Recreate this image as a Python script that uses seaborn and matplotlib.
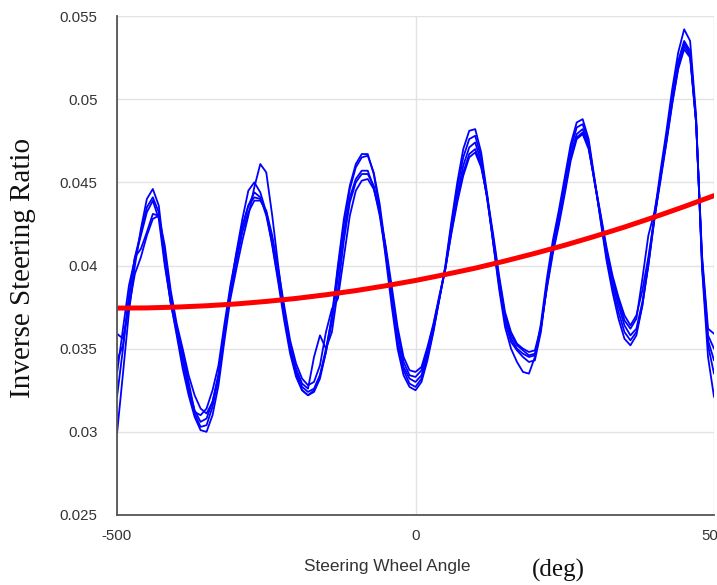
import matplotlib
matplotlib.use("Agg")
import matplotlib.pyplot as plt
import seaborn as sns
import pandas as pd

# ---------------- data ----------------
angle_deg = list(range(-500, 510, 10))

run_1 = [0.0299, 0.0335, 0.0372, 0.0400, 0.0422, 0.0440, 0.0446, 0.0436, 0.0405, 0.0378,
         0.0358, 0.0338, 0.0322, 0.0309, 0.0301, 0.0300, 0.0310, 0.0328, 0.0355, 0.0380,
         0.0398, 0.0415, 0.0430, 0.0447, 0.0461, 0.0456, 0.0430, 0.0400, 0.0372, 0.0350,
         0.0334, 0.0325, 0.0322, 0.0324, 0.0332, 0.0348, 0.0370, 0.0400, 0.0428, 0.0448,
         0.0461, 0.0467, 0.0467, 0.0455, 0.0434, 0.0405, 0.0376, 0.0350, 0.0334, 0.0327,
         0.0325, 0.0330, 0.0343, 0.0360, 0.0380, 0.0400, 0.0426, 0.0450, 0.0470, 0.0481,
         0.0482, 0.0468, 0.0443, 0.0414, 0.0386, 0.0363, 0.0350, 0.0342, 0.0336, 0.0335,
         0.0345, 0.0365, 0.0392, 0.0415, 0.0433, 0.0453, 0.0473, 0.0486, 0.0488, 0.0476,
         0.0452, 0.0427, 0.0403, 0.0384, 0.0368, 0.0356, 0.0352, 0.0358, 0.0376, 0.0402,
         0.0430, 0.0456, 0.0480, 0.0506, 0.0528, 0.0542, 0.0535, 0.0490, 0.0398, 0.0345,
         0.0321]

run_2 = [0.0321, 0.0350, 0.0382, 0.0405, 0.0420, 0.0435, 0.0441, 0.0432, 0.0402, 0.0377,
         0.0360, 0.0342, 0.0325, 0.0311, 0.0303, 0.0304, 0.0315, 0.0332, 0.0358, 0.0386,
         0.0408, 0.0428, 0.0445, 0.0450, 0.0444, 0.0432, 0.0412, 0.0390, 0.0367, 0.0347,
         0.0333, 0.0325, 0.0322, 0.0325, 0.0334, 0.0350, 0.0368, 0.0398, 0.0425, 0.0446,
         0.0459, 0.0465, 0.0466, 0.0456, 0.0437, 0.0410, 0.0381, 0.0354, 0.0337, 0.0329,
         0.0327, 0.0332, 0.0345, 0.0361, 0.0380, 0.0399, 0.0424, 0.0447, 0.0465, 0.0476,
         0.0478, 0.0465, 0.0441, 0.0414, 0.0388, 0.0366, 0.0354, 0.0349, 0.0345, 0.0342,
         0.0343, 0.0360, 0.0388, 0.0412, 0.0430, 0.0450, 0.0470, 0.0483, 0.0485, 0.0474,
         0.0451, 0.0428, 0.0405, 0.0387, 0.0372, 0.0360, 0.0355, 0.0360, 0.0376, 0.0400,
         0.0427, 0.0453, 0.0477, 0.0502, 0.0523, 0.0535, 0.0529, 0.0488, 0.0400, 0.0352,
         0.0335]

run_3 = [0.0335, 0.0362, 0.0388, 0.0404, 0.0418, 0.0432, 0.0439, 0.0428, 0.0400, 0.0378,
         0.0362, 0.0345, 0.0327, 0.0313, 0.0306, 0.0308, 0.0318, 0.0333, 0.0360, 0.0385,
         0.0405, 0.0423, 0.0436, 0.0444, 0.0441, 0.0430, 0.0413, 0.0392, 0.0370, 0.0350,
         0.0336, 0.0327, 0.0324, 0.0326, 0.0334, 0.0348, 0.0366, 0.0393, 0.0420, 0.0441,
         0.0452, 0.0457, 0.0457, 0.0447, 0.0430, 0.0407, 0.0381, 0.0355, 0.0339, 0.0332,
         0.0330, 0.0334, 0.0347, 0.0362, 0.0380, 0.0398, 0.0422, 0.0443, 0.0460, 0.0471,
         0.0474, 0.0462, 0.0440, 0.0415, 0.0390, 0.0368, 0.0356, 0.0350, 0.0347, 0.0345,
         0.0346, 0.0362, 0.0389, 0.0411, 0.0428, 0.0447, 0.0467, 0.0479, 0.0482, 0.0472,
         0.0450, 0.0429, 0.0407, 0.0390, 0.0376, 0.0364, 0.0358, 0.0362, 0.0378, 0.0400,
         0.0428, 0.0452, 0.0475, 0.0500, 0.0521, 0.0534, 0.0527, 0.0486, 0.0402, 0.0355,
         0.0343]

run_4 = [0.0343, 0.0352, 0.0380, 0.0405, 0.0410, 0.0420, 0.0431, 0.0430, 0.0408, 0.0382,
         0.0363, 0.0348, 0.0330, 0.0312, 0.0310, 0.0314, 0.0325, 0.0340, 0.0365, 0.0388,
         0.0407, 0.0424, 0.0436, 0.0441, 0.0440, 0.0432, 0.0416, 0.0395, 0.0373, 0.0352,
         0.0338, 0.0329, 0.0326, 0.0345, 0.0358, 0.0350, 0.0360, 0.0385, 0.0415, 0.0438,
         0.0450, 0.0455, 0.0455, 0.0448, 0.0432, 0.0410, 0.0385, 0.0360, 0.0342, 0.0334,
         0.0333, 0.0337, 0.0349, 0.0364, 0.0381, 0.0398, 0.0420, 0.0440, 0.0456, 0.0467,
         0.0470, 0.0460, 0.0441, 0.0417, 0.0392, 0.0370, 0.0358, 0.0352, 0.0349, 0.0346,
         0.0347, 0.0362, 0.0387, 0.0409, 0.0426, 0.0445, 0.0465, 0.0477, 0.0480, 0.0471,
         0.0450, 0.0430, 0.0409, 0.0392, 0.0379, 0.0367, 0.0362, 0.0368, 0.0392, 0.0418,
         0.0432, 0.0452, 0.0474, 0.0498, 0.0519, 0.0532, 0.0526, 0.0486, 0.0404, 0.0358,
         0.0350]

run_5 = [0.0359, 0.0356, 0.0375, 0.0395, 0.0405, 0.0418, 0.0428, 0.0430, 0.0412, 0.0385,
         0.0365, 0.0350, 0.0334, 0.0322, 0.0314, 0.0311, 0.0318, 0.0335, 0.0360, 0.0383,
         0.0402, 0.0420, 0.0432, 0.0439, 0.0439, 0.0433, 0.0418, 0.0398, 0.0376, 0.0355,
         0.0341, 0.0332, 0.0328, 0.0330, 0.0340, 0.0360, 0.0374, 0.0380, 0.0405, 0.0430,
         0.0445, 0.0451, 0.0452, 0.0446, 0.0432, 0.0412, 0.0388, 0.0363, 0.0345, 0.0337,
         0.0336, 0.0339, 0.0351, 0.0365, 0.0382, 0.0398, 0.0419, 0.0438, 0.0454, 0.0465,
         0.0468, 0.0459, 0.0442, 0.0419, 0.0394, 0.0372, 0.0360, 0.0353, 0.0350, 0.0348,
         0.0349, 0.0363, 0.0386, 0.0407, 0.0424, 0.0443, 0.0463, 0.0476, 0.0479, 0.0470,
         0.0451, 0.0431, 0.0411, 0.0394, 0.0381, 0.0370, 0.0364, 0.0370, 0.0385, 0.0405,
         0.0428, 0.0450, 0.0473, 0.0497, 0.0518, 0.0530, 0.0525, 0.0486, 0.0406, 0.0362,
         0.0359]

fit_angle_deg = list(range(-500, 550, 50))
fit_ratio = [0.03744, 0.03745, 0.03750, 0.03758, 0.03769, 0.03784, 0.03802, 0.03824,
             0.03849, 0.03878, 0.03910, 0.03946, 0.03984, 0.04027, 0.04073, 0.04122,
             0.04175, 0.04231, 0.04291, 0.04354, 0.04420]

x_ticks = [-500, 0, 500]
x_tick_labels = ["-500", "0", "500"]
y_ticks = [0.025, 0.03, 0.035, 0.04, 0.045, 0.05, 0.055]
y_tick_labels = ["0.025", "0.03", "0.035", "0.04", "0.045", "0.05", "0.055"]

# ---------------- frames ----------------
runs = [run_1, run_2, run_3, run_4, run_5]
rows = []
for i, r in enumerate(runs):
    for a, v in zip(angle_deg, r):
        rows.append({"angle": a, "ratio": v, "run": i})
df = pd.DataFrame(rows)
fit_df = pd.DataFrame({"angle": fit_angle_deg, "ratio": fit_ratio})

# ---------------- plot ----------------
sns.set_style("white")
plt.rcParams["font.family"] = ["Liberation Sans", "DejaVu Sans"]

fig = plt.figure(figsize=(7.17, 5.85), dpi=100)
ax = fig.add_axes([117 / 717, 1 - 515 / 585, 597 / 717, 499 / 585])

sns.lineplot(data=df, x="angle", y="ratio", units="run", estimator=None,
             color="#0000ff", linewidth=1.3, ax=ax, legend=False, sort=False,
             solid_joinstyle="round")
sns.lineplot(data=fit_df, x="angle", y="ratio", color="#ff0000",
             linewidth=3.6, ax=ax, legend=False, solid_capstyle="round")

ax.set_xlim(-500, 500)
ax.set_ylim(0.025, 0.055)
ax.set_xticks(x_ticks)
ax.set_xticklabels(x_tick_labels)
ax.set_yticks(y_ticks)
ax.set_yticklabels(y_tick_labels)
ax.set_xlabel("")
ax.set_ylabel("")

ax.grid(True, color="#e2e2e2", linewidth=1.0)
ax.set_axisbelow(True)
for s in ["top", "right"]:
    ax.spines[s].set_visible(False)
for s in ["left", "bottom"]:
    ax.spines[s].set_color("#555555")
    ax.spines[s].set_linewidth(1.3)

ax.tick_params(axis="both", direction="in", length=5, width=1, color="#555555",
               labelsize=10.8, labelcolor="#333333")
ax.tick_params(axis="y", pad=14)
ax.tick_params(axis="x", pad=10)

fig.text(23 / 717, 1 - 268 / 585, "Inverse Steering Ratio", rotation=90,
         ha="center", va="center", fontsize=21, family=["Liberation Serif", "DejaVu Serif"],
         color="#111111")
fig.text(387 / 717, 1 - 566 / 585, "Steering Wheel Angle", ha="center", va="center",
         fontsize=12.4, color="#333333")
fig.text(558 / 717, 1 - 570 / 585, "(deg)", ha="center", va="center",
         fontsize=18, family=["Liberation Serif", "DejaVu Serif"], color="#111111")

fig.savefig("out.png", dpi=100)
